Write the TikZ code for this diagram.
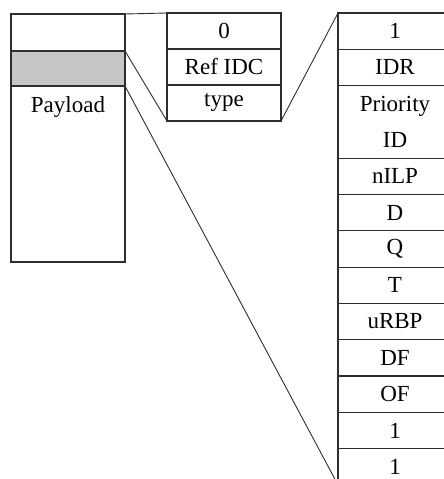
\documentclass[tikz,border=0pt]{standalone}
\usepackage{fontspec}
\setmainfont{Liberation Serif}
\usetikzlibrary{positioning}
\definecolor{cline}{HTML}{2E2E2E}
\definecolor{cshade}{HTML}{C6C6C6}
\tikzset{
  every picture/.style={line width=1.1pt},
  cell/.style={draw=cline, minimum width=114pt, minimum height=36.3pt, inner sep=0pt, outer sep=0pt,
    align=center, font=\fontsize{23}{26}\selectfont},
  txt/.style={inner sep=0pt, font=\fontsize{23}{26}\selectfont},
  link/.style={draw=cline, line width=0.9pt},
}

\begin{document}
\begin{tikzpicture}[x=1pt, y=-1pt]
  \clip (0,0) rectangle (444,479);
  % left frame: header, shaded field, payload
  \node[cell, anchor=north west, minimum height=37pt] (lTop) at (11,14) {};
  \node[cell, fill=cshade, minimum height=35pt, below=0pt of lTop] (lGrey) {};
  \node[cell, minimum height=176pt, below=0pt of lGrey] (lPay) {};
  \node[txt, below=10pt of lPay.north] (lPayText) {Payload};

  % middle: header fields
  \node[cell, anchor=north west, minimum height=36pt] (m0) at (167,13) {0};
  \node[cell, minimum height=36pt, below=0pt of m0] (mRef) {Ref IDC};
  \node[cell, minimum height=36pt, below=0pt of mRef] (mType) {type};

  % right: extension fields
  \node[cell, anchor=north west] (r1) at (338,13) {1};
  \node[cell, below=0pt of r1] (r2) {IDR};
  \node[cell, minimum height=72.6pt, below=0pt of r2, font=\fontsize{23}{36}\selectfont] (r3) {Priority\\ID};
  \foreach \t [count=\i from 4, remember=\i as \p (initially 3)] in {nILP, D, Q, T, uRBP, DF, OF, 1, 1}
    \node[cell, below=0pt of r\p] (r\i) {\t};

  % expansion lines
  \draw[link] (lTop.north east) -- (m0.north west);
  \draw[link] (lGrey.north east) -- (mType.south west);
  \draw[link] (mType.south east) -- (r1.north west);
  \draw[link] (lPay.north east) -- (r12.south west);
\end{tikzpicture}
\end{document}
